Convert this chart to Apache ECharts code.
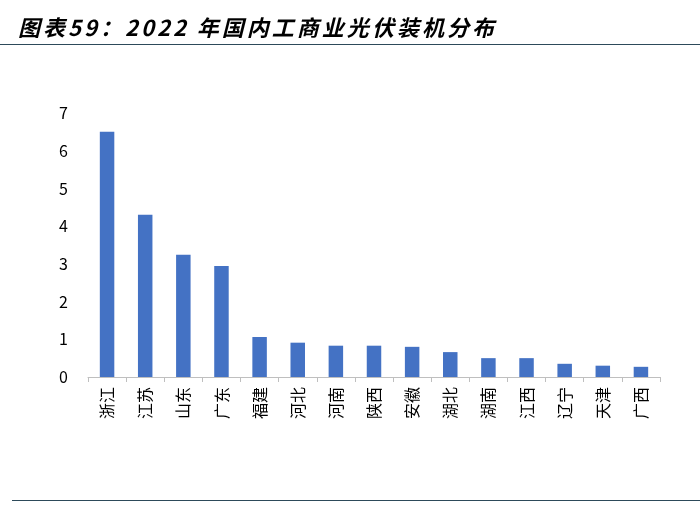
<!DOCTYPE html>
<html>
<head>
<meta charset="utf-8">
<script src="https://cdn.jsdelivr.net/npm/echarts@6/dist/echarts.min.js"></script>
<style>
body{margin:0;background:#fff;}
#title{position:absolute;left:18px;top:10px;font:italic bold 22px "Noto Sans CJK SC";color:#000;letter-spacing:3px;white-space:pre;}
#line1{position:absolute;left:0;top:44px;width:700px;height:1px;background:#2d4a5a;}
#line2{position:absolute;left:12px;top:500px;width:688px;height:1px;background:#2d4a5a;}
#chart{position:absolute;left:0;top:0;width:700px;height:505px;}
</style>
</head>
<body>
<div id="chart"></div>
<div id="title">图表59：2022 年国内工商业光伏装机分布</div>
<div id="line1"></div>
<div id="line2"></div>
<script>
var provinces = ['浙江','江苏','山东','广东','福建','河北','河南','陕西','安徽','湖北','湖南','江西','辽宁','天津','广西'];
var capacity = [6.5, 4.3, 3.24, 2.94, 1.06, 0.91, 0.83, 0.83, 0.8, 0.66, 0.5, 0.5, 0.35, 0.3, 0.27];

var myChart = echarts.init(document.getElementById('chart'));
myChart.setOption({
  animation: false,
  grid: {left: 88, right: 40, top: 113, bottom: 128},
  xAxis: {
    type: 'category',
    data: provinces,
    axisLine: {lineStyle: {color: '#bfbfbf'}},
    axisTick: {show: true, lineStyle: {color: '#bfbfbf'}, length: 5},
    axisLabel: {rotate: 90, color: '#000', fontSize: 16, fontFamily: 'Noto Sans CJK SC', margin: 10}
  },
  yAxis: {
    type: 'value', min: 0, max: 7, interval: 1,
    splitLine: {show: false},
    axisLine: {show: false},
    axisLabel: {color: '#000', fontSize: 16, fontFamily: 'Noto Sans CJK SC', margin: 20}
  },
  series: [{
    type: 'bar',
    data: capacity,
    barWidth: '38%',
    itemStyle: {color: '#4472c4'}
  }]
});
</script>
</body>
</html>
